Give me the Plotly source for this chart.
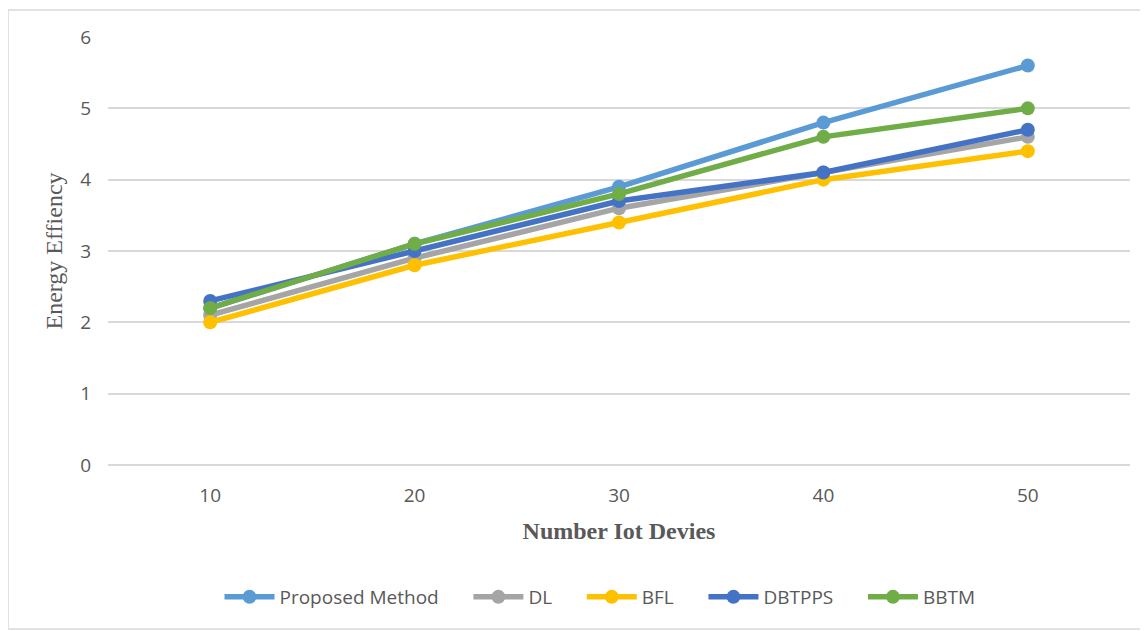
import plotly.graph_objects as go

devices = ["10", "20", "30", "40", "50"]
proposed = [2.2, 3.1, 3.9, 4.8, 5.6]
dl = [2.1, 2.9, 3.6, 4.1, 4.6]
bfl = [2.0, 2.8, 3.4, 4.0, 4.4]
dbtpps = [2.3, 3.0, 3.7, 4.1, 4.7]
bbtm = [2.2, 3.1, 3.8, 4.6, 5.0]

series = [
    ("Proposed Method", proposed, "#5B9BD5"),
    ("DL", dl, "#A5A5A5"),
    ("BFL", bfl, "#FFC000"),
    ("DBTPPS", dbtpps, "#4472C4"),
    ("BBTM", bbtm, "#70AD47"),
]

PAD = "\u00a0" * 5

fig = go.Figure()
for i, (name, vals, col) in enumerate(series):
    fig.add_trace(go.Scatter(
        x=devices, y=vals, name=name + (PAD if i < len(series) - 1 else ""),
        mode="lines+markers",
        line=dict(color=col, width=5.5),
        marker=dict(color=col, size=14),
    ))

# page body has an 8px margin; figure coordinates = screen - 8
OFF = 8
W, H = 1140, 623
ml, mr, mt, mb = 100, 18, 29, 166
pw, ph = W - ml - mr, H - mt - mb

def px(x):
    return (x - OFF - ml) / pw

def py(y):
    return (H - mb - (y - OFF)) / ph

fig.add_shape(type="rect", xref="paper", yref="paper",
              x0=px(8), x1=px(1200), y0=py(10), y1=py(629),
              line=dict(color="#D9D9D9", width=1.5), fillcolor="rgba(0,0,0,0)", layer="below")

fig.update_layout(
    width=W, height=H,
    margin=dict(l=ml, r=mr, t=mt, b=mb),
    plot_bgcolor="white", paper_bgcolor="white",
    showlegend=True,
    legend=dict(orientation="h", x=px(600), xanchor="center", y=py(597), yanchor="middle",
                font=dict(family="Open Sans", size=19, color="#595959"),
                itemwidth=50, tracegroupgap=0),
    xaxis=dict(
        type="category", range=[-0.5, 4.5], showgrid=False, zeroline=False,
        showline=False, ticks="",
        tickfont=dict(family="Open Sans", size=19, color="#595959"),
        ticklabelstandoff=17,
        title=dict(text="<b>Number Iot Devies</b>",
                   font=dict(family="Liberation Serif", size=24, color="#595959"),
                   standoff=15),
    ),
    yaxis=dict(
        range=[0, 6], dtick=1, showgrid=True, gridcolor="#D9D9D9", gridwidth=1.5,
        zeroline=True, zerolinecolor="#D9D9D9", zerolinewidth=1.5,
        showline=False, ticks="",
        tickfont=dict(family="Open Sans", size=19, color="#595959"),
        ticklabelstandoff=16,
        title=dict(text="Energy Effiency",
                   font=dict(family="Liberation Serif", size=24, color="#595959"),
                   standoff=10),
    ),
)

fig.write_html("out.html")
